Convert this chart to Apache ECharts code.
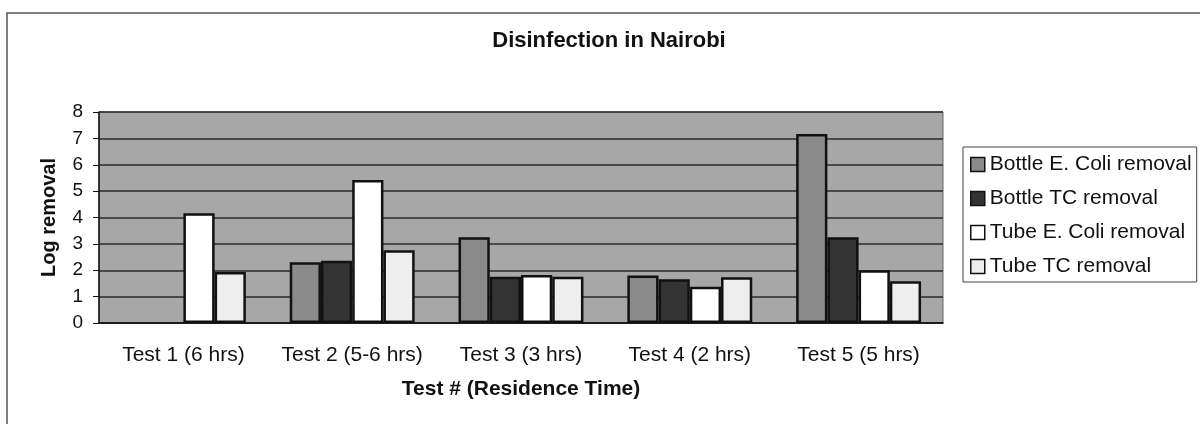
<!DOCTYPE html>
<html style="height: 100%">
<head>
    <meta charset="utf-8">
    <script type="text/javascript" src="https://cdn.jsdelivr.net/npm/echarts@6/dist/echarts.min.js"></script>
</head>
<body style="height: 100%; margin: 0; background: #fff">
<div id="container" style="width: 1200px; height: 424px"></div>
<script type="text/javascript">
    var tests = ["Test 1 (6 hrs)", "Test 2 (5-6 hrs)", "Test 3 (3 hrs)", "Test 4 (2 hrs)", "Test 5 (5 hrs)"];
    var bottleEColi = ["-", 2.3, 3.25, 1.8, 7.17];
    var bottleTC = ["-", 2.36, 1.75, 1.66, 3.25];
    var tubeEColi = [4.16, 5.42, 1.82, 1.37, 2.0];
    var tubeTC = [1.93, 2.76, 1.75, 1.73, 1.58];
    var yTicks = [0, 1, 2, 3, 4, 5, 6, 7, 8];

    var font = "Liberation Sans, Arial, sans-serif";
    var myChart = echarts.init(document.getElementById("container"));

    function bar(name, data, color) {
        return {
            name: name,
            type: "bar",
            data: data,
            barGap: "0%",
            barCategoryGap: "26%",
            itemStyle: {color: color, borderColor: "#111", borderWidth: 2.5}
        };
    }

    var option = {
        animation: false,
        textStyle: {fontFamily: font},
        title: {
            text: "Disinfection in Nairobi",
            left: 609,
            top: 30,
            textAlign: "center",
            padding: 0,
            textStyle: {fontSize: 22, fontWeight: "bold", color: "#111", fontFamily: font}
        },
        graphic: [{
            type: "rect",
            shape: {x: 7, y: 13, width: 1220, height: 440},
            style: {fill: "none", stroke: "#555", lineWidth: 1.5},
            silent: true
        }],
        legend: {
            orient: "vertical",
            left: 963,
            top: 147,
            padding: [7, 5, 5, 7],
            borderColor: "#444",
            borderWidth: 1,
            itemWidth: 14,
            itemHeight: 14,
            itemGap: 13,
            icon: "rect",
            itemStyle: {borderColor: "#111", borderWidth: 1.5},
            textStyle: {fontSize: 21, color: "#111", fontFamily: font},
            data: ["Bottle E. Coli removal", "Bottle TC removal", "Tube E. Coli removal", "Tube TC removal"]
        },
        grid: {
            left: 99,
            right: 257,
            top: 112,
            bottom: 101,
            show: true,
            backgroundColor: "#a7a7a7",
            borderColor: "#666",
            borderWidth: 1
        },
        xAxis: {
            type: "category",
            data: tests,
            name: "Test # (Residence Time)",
            nameLocation: "middle",
            nameGap: 56,
            nameTextStyle: {fontSize: 21, fontWeight: "bold", color: "#111", fontFamily: font},
            axisLine: {lineStyle: {color: "#111", width: 1.5}},
            axisTick: {length: 6, lineStyle: {color: "#111"}},
            axisLabel: {interval: 0, hideOverlap: false, fontSize: 21, color: "#111", margin: 22, fontFamily: font}
        },
        yAxis: {
            type: "value",
            min: yTicks[0],
            max: yTicks[yTicks.length - 1],
            interval: 1,
            name: "Log removal",
            nameLocation: "middle",
            nameGap: 40,
            nameTextStyle: {fontSize: 20, fontWeight: "bold", color: "#111", fontFamily: font},
            axisLine: {show: true, lineStyle: {color: "#111", width: 1.5}},
            axisTick: {show: true, length: 6, lineStyle: {color: "#111"}},
            axisLabel: {fontSize: 19, color: "#111", margin: 16, fontFamily: font},
            splitLine: {show: true, lineStyle: {color: "#2a2a2a", width: 1.5}}
        },
        series: [
            bar("Bottle E. Coli removal", bottleEColi, "#8a8a8a"),
            bar("Bottle TC removal", bottleTC, "#333333"),
            bar("Tube E. Coli removal", tubeEColi, "#ffffff"),
            bar("Tube TC removal", tubeTC, "#eeeeee")
        ]
    };

    myChart.setOption(option);
</script>
</body>
</html>
